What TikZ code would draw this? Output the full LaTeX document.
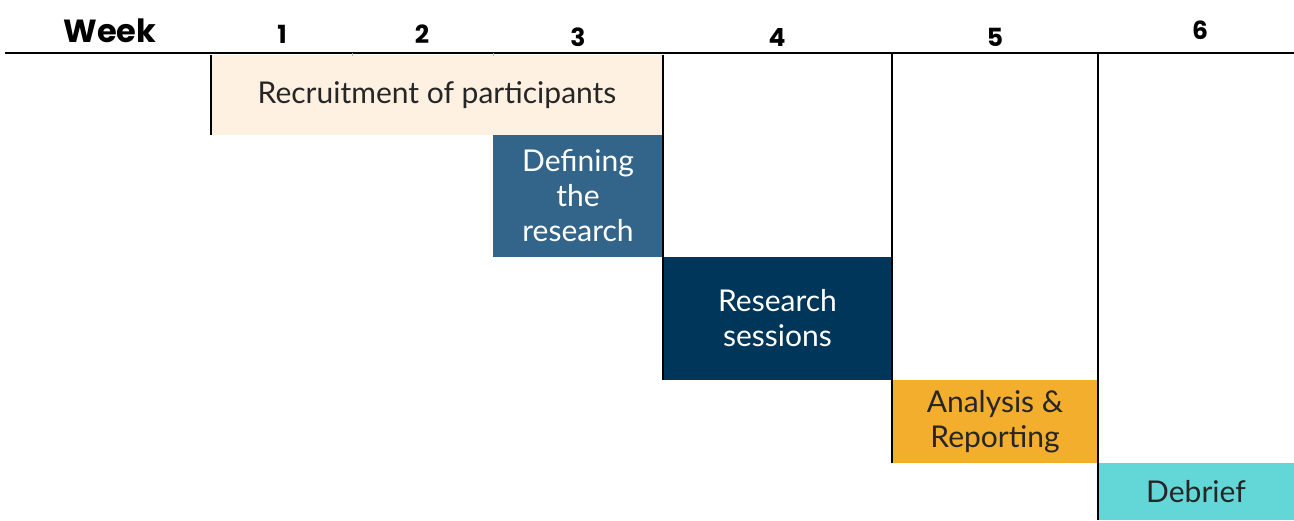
\documentclass[tikz,border=0pt]{standalone}
\usepackage{fontspec}
\setmainfont{Lato}
\newfontfamily\headfont{Poppins}
\usetikzlibrary{positioning}

\definecolor{cream}{HTML}{FEF1E1}
\definecolor{steel}{HTML}{33658A}
\definecolor{navy}{HTML}{003659}
\definecolor{amber}{HTML}{F4AE2E}
\definecolor{aqua}{HTML}{63D7D8}

\tikzset{
  task/.style={inner sep=0pt, outer sep=0pt, align=center,
    font=\fontsize{15}{17.5}\selectfont},
  weeknum/.style={font=\headfont\bfseries\fontsize{12.5}{12.5}\selectfont},
  rule/.style={line width=1pt},
}

\begin{document}
\begin{tikzpicture}[x=0.5pt,y=-0.5pt]
\useasboundingbox (0,0) rectangle (1294,520);

 % Header

\node[weeknum, font=\headfont\bfseries\fontsize{16}{16}\selectfont] (week) at (110,31) {Week};
\node[weeknum] (w1) at (282,34) {1};
\node[weeknum] (w2) at (422,34) {2};
\node[weeknum] (w3) at (578,37) {3};
\node[weeknum] (w4) at (777,37) {4};
\node[weeknum] (w5) at (995,37) {5};
\node[weeknum] (w6) at (1200,30) {6};

\coordinate (hl) at (5,53);
\coordinate (hr) at (1294,53);

 % Tasks

\node[task, fill=cream, text=black!85, anchor=north west,
      minimum width=226pt, minimum height=40pt] (recruit) at (211,55)
      {Recruitment of participants};
\node[task, fill=steel, text=white, below left=0 of recruit.south east,
      minimum width=85pt, minimum height=61pt] (define)
      {Defining\\the\\research};
\node[task, fill=navy, text=white, below right=0 of define.south east,
      minimum width=114.5pt, minimum height=61.5pt] (sessions)
      {Research\\sessions};
\node[task, fill=amber, text=black!85, below right=0 of sessions.south east,
      minimum width=103pt, minimum height=41.5pt] (analysis)
      {Analysis \&\\Reporting};
\node[task, fill=aqua, text=black!85, below right=0 of analysis.south east,
      minimum width=98pt, minimum height=28.5pt] (debrief)
      {Debrief};

 % Rules

\draw[rule] (hl) -- (hr);
\draw[black!30, line width=0.3pt] (352,53) -- (352,56) (493,53) -- (493,56);
\draw[rule] (recruit.north west) -- (recruit.south west);
\draw[rule] (recruit.north east) -- (sessions.south west);
\draw[rule] (analysis.north west |- hl) -- (analysis.south west);
\draw[rule] (debrief.north west |- hl) -- (debrief.south west);

\end{tikzpicture}
\end{document}
